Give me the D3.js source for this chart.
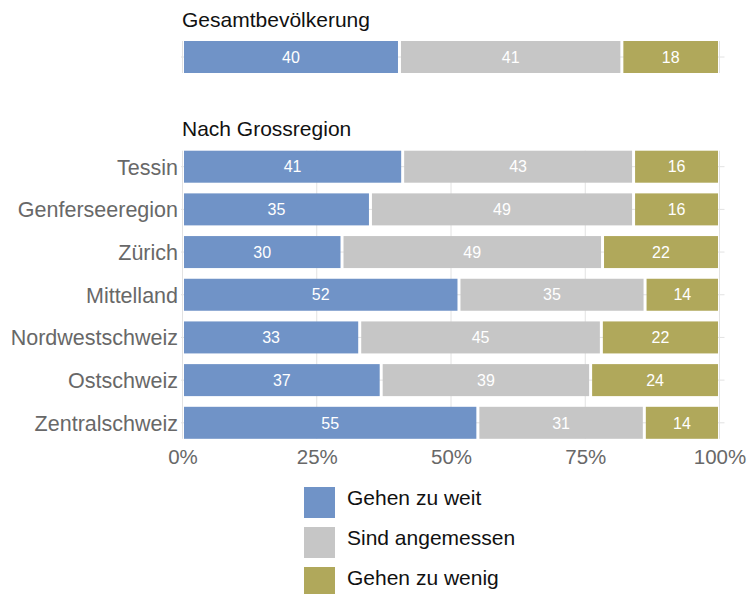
<!DOCTYPE html>
<html>
<head>
<meta charset="utf-8">
<script src="https://cdn.jsdelivr.net/npm/d3@7"></script>
<style>
  body { margin: 0; background: #fff; }
  svg { display: block; font-family: "Liberation Sans", Arial, Helvetica, sans-serif; }
</style>
</head>
<body>
<svg id="chart" width="753" height="594"></svg>
<script>
// Answer categories and their colours
const answers = ["Gehen zu weit", "Sind angemessen", "Gehen zu wenig"];
const colors = ["#7093c7", "#c6c6c6", "#b0a85b"];

// Whole population
const totalTitle = "Gesamtbevölkerung";
const totalValues = [40, 41, 18];

// By major region
const regionTitle = "Nach Grossregion";
const regions = ["Tessin", "Genferseeregion", "Zürich", "Mittelland", "Nordwestschweiz", "Ostschweiz", "Zentralschweiz"];
const tooFar = [41, 35, 30, 52, 33, 37, 55];
const adequate = [43, 49, 49, 35, 45, 39, 31];
const tooLittle = [16, 16, 22, 14, 22, 24, 14];

// Axis ticks
const tickValues = [0, 0.25, 0.5, 0.75, 1];
const tickLabels = ["0%", "25%", "50%", "75%", "100%"];

const svg = d3.select("#chart");
const gridColor = "#e2e2e2";
const labelGray = "#686868";
const barH = 32;
const gap = 1.5;

const x = d3.scaleLinear().domain([0, 1]).range([182.5, 719.5]);

// Row positions
const yTotal = d3.scalePoint().domain([totalTitle]).range([57, 57]);
const yReg = d3.scalePoint().domain(regions).range([166.7, 422.8]);

// Turn a row of values into stacked, normalised segments
function segments(vals) {
  const sum = d3.sum(vals);
  let acc = 0;
  return vals.map((v, i) => {
    const s = { i, v, x0: acc / sum, x1: (acc + v) / sum };
    acc += v;
    return s;
  });
}

function drawPanel(rows, y) {
  const g = svg.append("g");
  const top = y(rows[0].name) - barH / 2;
  const bottom = y(rows[rows.length - 1].name) + barH / 2;

  // vertical grid
  g.selectAll("line.vg").data(tickValues).join("line")
    .attr("x1", d => x(d)).attr("x2", d => x(d))
    .attr("y1", top).attr("y2", bottom)
    .attr("stroke", gridColor).attr("stroke-width", 1);

  // horizontal grid at each row
  g.selectAll("line.hg").data(rows).join("line")
    .attr("x1", 181).attr("x2", 724.5)
    .attr("y1", d => y(d.name)).attr("y2", d => y(d.name))
    .attr("stroke", gridColor).attr("stroke-width", 1);

  const row = g.selectAll("g.row").data(rows).join("g")
    .attr("transform", d => `translate(0,${y(d.name)})`);

  const seg = row.selectAll("g.seg").data(d => segments(d.values)).join("g");
  seg.append("rect")
    .attr("x", d => x(d.x0) + gap)
    .attr("width", d => x(d.x1) - x(d.x0) - 2 * gap)
    .attr("y", -barH / 2)
    .attr("height", barH)
    .attr("fill", d => colors[d.i]);
  seg.append("text")
    .attr("x", d => (x(d.x0) + x(d.x1)) / 2)
    .attr("y", 5.7)
    .attr("text-anchor", "middle")
    .attr("fill", "#fff")
    .attr("font-size", 16)
    .text(d => d.v);
}

// Panel titles
svg.append("text").attr("x", 182).attr("y", 26.5)
  .attr("font-size", 21).attr("fill", "#111").text(totalTitle);
svg.append("text").attr("x", 182).attr("y", 136)
  .attr("font-size", 21).attr("fill", "#111").text(regionTitle);

drawPanel([{ name: totalTitle, values: totalValues }], yTotal);
drawPanel(regions.map((r, i) => ({ name: r, values: [tooFar[i], adequate[i], tooLittle[i]] })), yReg);

// Region labels
const yAxis = svg.append("g")
  .attr("transform", `translate(${x(0)},0)`)
  .call(d3.axisLeft(yReg).tickSize(0).tickPadding(4.5));
yAxis.select(".domain").remove();
yAxis.selectAll("text")
  .attr("font-size", 21.5).attr("font-family", null)
  .attr("fill", labelGray).attr("dy", null)
  .attr("y", 7.4);

// Percentage axis
const xAxis = svg.append("g")
  .attr("transform", "translate(0,446)")
  .call(d3.axisBottom(x).tickValues(tickValues).tickSize(0).tickPadding(0)
    .tickFormat((d, i) => tickLabels[i]));
xAxis.select(".domain").remove();
xAxis.selectAll("text")
  .attr("font-size", 20.5).attr("font-family", null)
  .attr("fill", labelGray).attr("dy", null)
  .attr("y", 18);

// Legend
const legend = svg.append("g").selectAll("g").data(answers).join("g")
  .attr("transform", (d, i) => `translate(304,${487 + i * 40})`);
legend.append("rect")
  .attr("width", 31).attr("height", 31)
  .attr("fill", (d, i) => colors[i]);
legend.append("text")
  .attr("x", 43).attr("y", 18)
  .attr("font-size", 21).attr("fill", "#111")
  .text(d => d);
</script>
</body>
</html>
